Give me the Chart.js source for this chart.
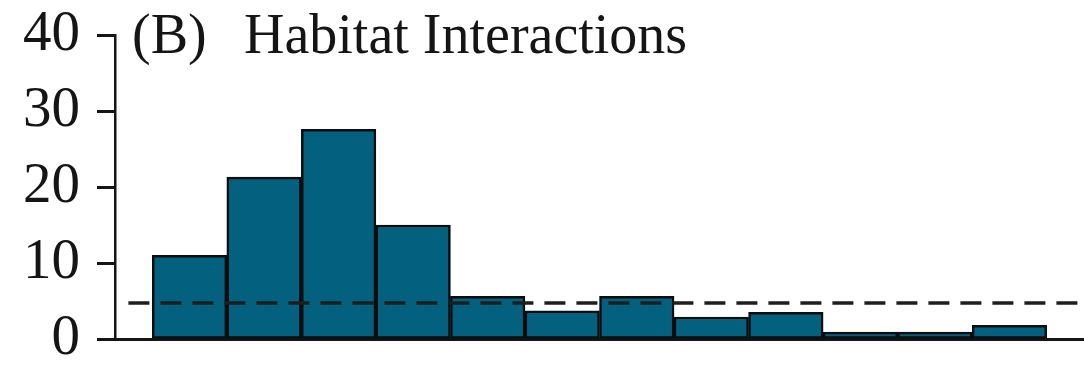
<!DOCTYPE html>
<html>
<head>
<meta charset="utf-8">
<script src="https://cdn.jsdelivr.net/npm/chart.js@4/dist/chart.umd.min.js"></script>
<style>
  html, body { margin: 0; padding: 0; background: #ffffff; }
  #wrap { width: 1084px; height: 367px; }
</style>
</head>
<body>
<div id="wrap"><canvas id="hist" width="1084" height="367"></canvas></div>
<script>
// Histogram bins (1..12) and their heights
const bins = [1, 2, 3, 4, 5, 6, 7, 8, 9, 10, 11, 12];
const heights = [11, 21.3, 27.6, 15, 5.6, 3.7, 5.6, 2.9, 3.5, 0.9, 0.9, 1.8];

// Dashed reference level and its horizontal extent
const refLevel = 4.75;
const refSpan = [0.18, 13];

// Y axis ticks
const yTicks = [0, 10, 20, 30, 40];

const panelTag = '(B)';
const panelTitle = 'Habitat Interactions';

const SERIF = '"Liberation Serif", "Times New Roman", serif';
const INK = '#151515';

// Panel heading drawn inside the plot area, next to the top of the y axis
const headingPlugin = {
  id: 'heading',
  afterDraw(chart) {
    const { ctx, chartArea } = chart;
    ctx.save();
    ctx.fillStyle = INK;
    ctx.font = '56px ' + SERIF;
    ctx.textBaseline = 'alphabetic';
    ctx.textAlign = 'left';
    const y = chartArea.top + 18;
    ctx.fillText(panelTag, chartArea.left + 17, y);
    ctx.fillText(panelTitle, chartArea.left + 129, y);
    ctx.restore();
  }
};

new Chart(document.getElementById('hist'), {
  data: {
    datasets: [
      {
        type: 'line',
        data: refSpan.map(x => ({ x, y: refLevel })),
        borderColor: '#1e1e1e',
        borderWidth: 3.5,
        borderDash: [21, 11],
        pointRadius: 0,
        fill: false,
        order: 0
      },
      {
        type: 'bar',
        data: bins.map((b, i) => ({ x: b, y: heights[i] })),
        backgroundColor: '#03617f',
        borderColor: '#0d0d0d',
        borderWidth: 2.5,
        borderSkipped: false,
        barPercentage: 1,
        categoryPercentage: 1,
        order: 1
      }
    ]
  },
  options: {
    responsive: false,
    animation: false,
    events: [],
    layout: { padding: { top: 35, right: 0, bottom: 28, left: 0 } },
    plugins: {
      legend: { display: false },
      tooltip: { enabled: false },
      title: { display: false }
    },
    scales: {
      x: {
        type: 'linear',
        min: 0,
        max: 13,
        offset: false,
        afterFit(scale) {
          scale.height = 0;
          scale.paddingLeft = 0;
          scale.paddingRight = 0;
        },
        ticks: { display: false },
        grid: { display: false, offset: false },
        border: { display: true, color: '#151515', width: 3 }
      },
      y: {
        min: 0,
        max: 40,
        afterBuildTicks(scale) {
          scale.ticks = yTicks.map(v => ({ value: v }));
        },
        afterFit(scale) {
          scale.width = 115;
          scale.paddingTop = 0;
          scale.paddingBottom = 0;
        },
        ticks: {
          color: INK,
          padding: 17,
          font: { family: SERIF, size: 57 }
        },
        grid: {
          drawOnChartArea: false,
          drawTicks: true,
          tickLength: 18,
          tickWidth: 3,
          tickColor: '#151515'
        },
        border: { display: true, color: '#151515', width: 2.5 }
      }
    }
  },
  plugins: [headingPlugin]
});
</script>
</body>
</html>
